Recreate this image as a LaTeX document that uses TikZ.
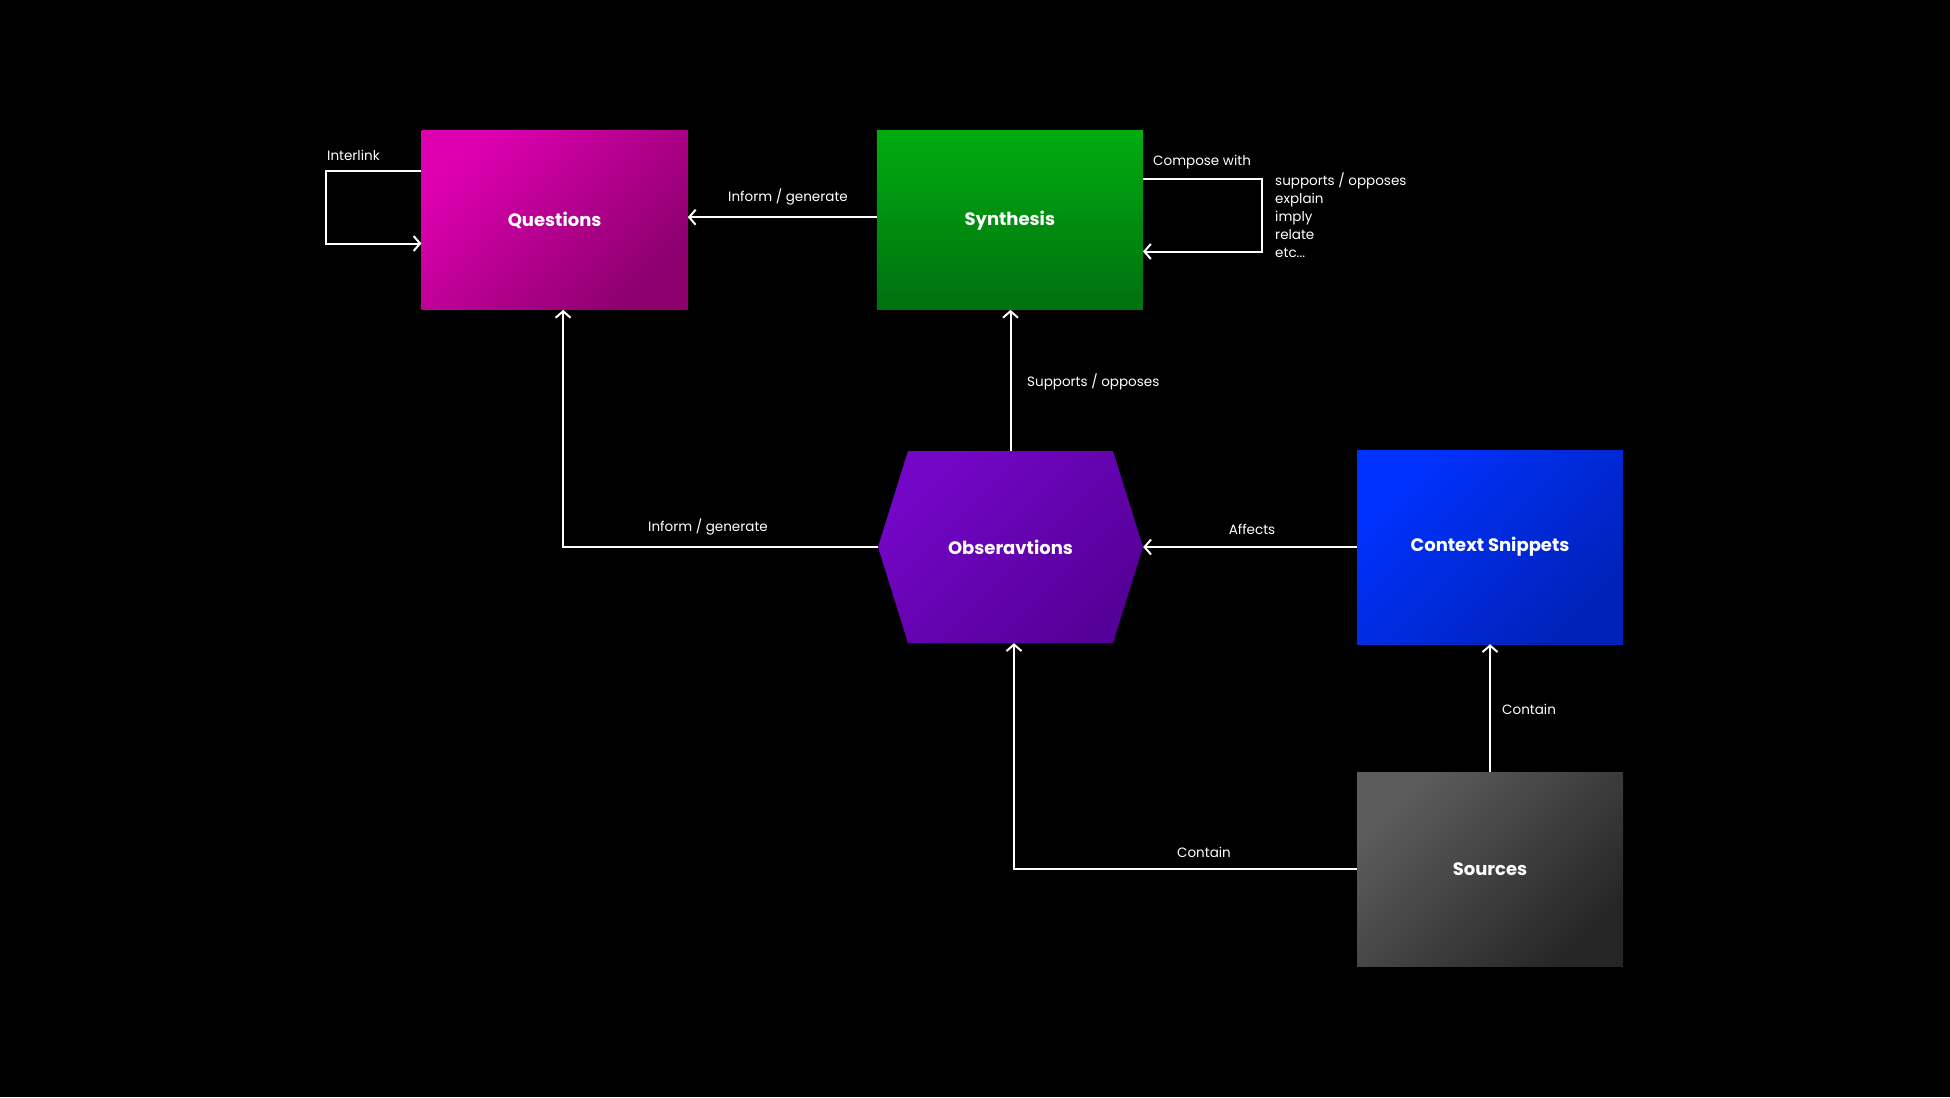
\documentclass[tikz,border=0pt]{standalone}
\usepackage{fontspec}
\setmainfont{Poppins}
\usetikzlibrary{arrows.meta,calc}
\definecolor{qA}{HTML}{DE00B0}
\definecolor{qB}{HTML}{8C006E}
\definecolor{sA}{HTML}{00AC10}
\definecolor{sB}{HTML}{00700F}
\definecolor{oA}{HTML}{7406C8}
\definecolor{oB}{HTML}{550098}
\definecolor{cA}{HTML}{0032FF}
\definecolor{cB}{HTML}{0022B8}
\definecolor{gA}{HTML}{5C5C5C}
\definecolor{gB}{HTML}{262626}
\begin{document}
\begin{tikzpicture}[x=1pt,y=-1pt,
  box/.style={minimum width=266pt,minimum height=179pt,inner sep=0pt,text=white,font=\bfseries\fontsize{18}{21}\selectfont},
  lbl/.style={text=white,font=\fontsize{13.5}{16}\selectfont,inner sep=0pt},
  arr/.style={draw=white,line width=2pt,-{Straight Barb[length=6.5pt,width=15pt]}}]
\fill[black] (0,0) rectangle (1950,1097);
\useasboundingbox (0,0) rectangle (1950,1097);

% boxes
\node[box,top color=qA,bottom color=qB,shading angle=45] (q) at (554.6,220.2) {Questions};
\node[box,top color=sA,bottom color=sB] (syn) at (1009.8,220.2) {Synthesis};
\node[box,minimum height=194pt,top color=cA,bottom color=cB,shading angle=45] (ctx) at (1490,547) {Context Snippets};
\node[box,minimum height=194pt,top color=gA,bottom color=gB,shading angle=45] (src) at (1490,869) {Sources};

% hexagon
\shade[top color=oA,bottom color=oB,shading angle=45]
  (908,451) -- (1113,451) -- (1143,547) -- (1113,643) -- (908,643) -- (878,547) -- cycle;
\node[box,minimum width=265pt,minimum height=192pt] (obs) at (1010.5,547) {Obseravtions};

% connectors
\draw[arr] ([yshift=3pt]syn.west) -- ([yshift=3pt]q.east);
\coordinate (il) at ($(q.north west)+(-95,40)$);
\draw[arr] ($(q.north west)+(0,40)$) -- (il) |- ($(q.north west)+(0,113)$);
\coordinate (cw) at ($(syn.north east)+(119,48)$);
\draw[arr] ($(syn.north east)+(0,48)$) -- (cw) |- ($(syn.north east)+(0,121)$);
\draw[arr] (obs.north) -- (obs.north |- syn.south);
\draw[arr] (obs.west) -| ([xshift=8.5pt]q.south);
\draw[arr] (ctx.west) -- (obs.east |- ctx.west);
\draw[arr] (src.north) -- (ctx.south);
\draw[arr] (src.west) -| ([xshift=3.5pt]obs.south);

% labels
\node[lbl,anchor=west] (l1) at (327,155) {Interlink};
\node[lbl] (l2) at (788,197) {Inform / generate};
\node[lbl,anchor=west] (l3) at (1153,162) {Compose with};
\node[lbl,anchor=base west,align=left,font=\fontsize{13.5}{18}\selectfont] (l4) at (1275,257)
  {supports / opposes\\explain\\imply\\relate\\etc...};
\node[lbl,anchor=west] (l5) at (1027,382) {Supports / opposes};
\node[lbl] (l6) at (708,527) {Inform / generate};
\node[lbl] (l7) at (1252,529) {Affects};
\node[lbl,anchor=west] (l8) at (1502,709) {Contain};
\node[lbl] (l9) at (1204,852) {Contain};
\end{tikzpicture}
\end{document}
